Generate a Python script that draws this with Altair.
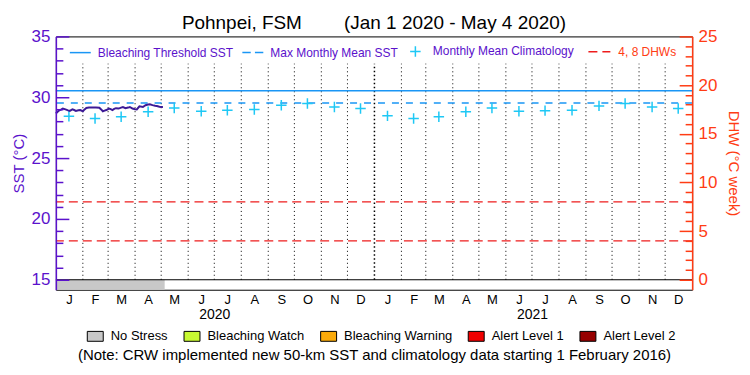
import altair as alt
import pandas as pd

# ---------------- data ----------------
sst_dates = ["2020-01-01", "2020-01-03", "2020-01-05", "2020-01-07", "2020-01-09", "2020-01-12",
             "2020-01-15", "2020-01-17", "2020-01-20", "2020-01-22", "2020-01-24", "2020-01-27",
             "2020-01-29", "2020-02-01", "2020-02-03", "2020-02-05", "2020-02-08", "2020-02-12",
             "2020-02-16", "2020-02-20", "2020-02-22", "2020-02-24", "2020-02-26", "2020-02-28",
             "2020-03-02", "2020-03-04", "2020-03-06", "2020-03-08", "2020-03-10", "2020-03-13",
             "2020-03-16", "2020-03-18", "2020-03-21", "2020-03-24", "2020-03-26", "2020-03-29",
             "2020-04-01", "2020-04-03", "2020-04-06", "2020-04-10", "2020-04-13", "2020-04-16",
             "2020-04-18", "2020-04-21", "2020-04-24", "2020-04-26", "2020-04-29", "2020-05-01",
             "2020-05-03"]
sst_values = [28.66, 28.80, 28.93, 28.98, 29.07, 29.00,
              28.92, 28.88, 29.00, 28.95, 28.88, 28.93,
              28.95, 28.85, 29.00, 29.12, 29.15, 29.15,
              29.15, 29.14, 29.00, 28.85, 28.90, 28.95,
              29.07, 29.02, 28.95, 29.04, 29.10, 29.07,
              29.15, 29.20, 29.10, 29.15, 29.20, 29.07,
              29.02, 29.00, 29.26, 29.20, 29.35, 29.40,
              29.42, 29.35, 29.30, 29.28, 29.22, 29.20,
              29.20]

clim_dates = ["2020-01-16", "2020-02-15", "2020-03-16", "2020-04-16", "2020-05-16", "2020-06-16",
              "2020-07-16", "2020-08-16", "2020-09-16", "2020-10-16", "2020-11-16", "2020-12-16",
              "2021-01-16", "2021-02-15", "2021-03-16", "2021-04-16", "2021-05-16", "2021-06-16",
              "2021-07-16", "2021-08-16", "2021-09-16", "2021-10-16", "2021-11-16", "2021-12-16"]
clim_values = [28.44, 28.25, 28.39, 28.80, 29.12, 28.85, 28.93, 29.00, 29.34, 29.48, 29.20, 29.07,
               28.47, 28.25, 28.39, 28.80, 29.12, 28.85, 28.90, 28.93, 29.29, 29.48, 29.20, 29.07]

threshold_value = [30.53]
mmm_value = [29.53]
dhw_values = [4, 8]
dhw_base = [0]

month_line_dates = ["2020-02-01", "2020-03-01", "2020-04-01", "2020-05-01", "2020-06-01",
                    "2020-07-01", "2020-08-01", "2020-09-01", "2020-10-01", "2020-11-01",
                    "2020-12-01", "2021-02-01", "2021-03-01", "2021-04-01", "2021-05-01",
                    "2021-06-01", "2021-07-01", "2021-08-01", "2021-09-01", "2021-10-01",
                    "2021-11-01", "2021-12-01"]
year_line_dates = ["2021-01-01"]

stress_start = ["2020-01-01"]
stress_end = ["2020-05-05"]
stress_level = ["No Stress"]

alert_names = ["No Stress", "Bleaching Watch", "Bleaching Warning", "Alert Level 1", "Alert Level 2"]
alert_colors = ["#C8C8C8", "#C8FA32", "#FAAA0A", "#F00000", "#960000"]

series_names = ["Bleaching Threshold SST", "Max Monthly Mean SST", "Monthly Mean Climatology"]
dhw_name = ["4, 8 DHWs"]

month_tick_days = [(y, m, 16 if m != 2 else 15) for y in (2020, 2021) for m in range(1, 13)]
year_tick_days = [(2020, 7, 1), (2021, 7, 1)]

title_text = "Pohnpei, FSM" + "\u00a0" * 8 + "(Jan 1 2020 - May 4 2020)"
note_text = "(Note: CRW implemented new 50-km SST and climatology data starting 1 February 2016)"

# ---------------- styling ----------------
FONT = "Liberation Sans"
W, H = 638, 254
SST_LO, SST_HI = 15.0, 35.0
DHW_LO, DHW_HI = 0.0, 25.0
BAND_PX = 10
sst_domain = [SST_LO - BAND_PX * (SST_HI - SST_LO) / (H - BAND_PX), SST_HI]
dhw_domain = [DHW_LO - BAND_PX * (DHW_HI - DHW_LO) / (H - BAND_PX), DHW_HI]
dotted_top_dhw = 22.2

PURPLE = "#5B12CC"
SST_LINE = "#3D1A96"
BLUE = "#1A96F5"
CYAN = "#1EC8F5"
RED_AX = "#FF3C14"
RED_LN = "#EE1C1C"

line_path = "M-1,0H1"
dash_path = "M-1,0H-0.2M0.2,0H1"
cross_path = "M0,-0.5V0.5M-0.5,0H0.5"
box_path = "M-1,-0.62H1V0.62H-1Z"

# ---------------- tables ----------------
sst_df = pd.DataFrame({"date": sst_dates, "sst": sst_values})
clim_df = pd.DataFrame({"date": clim_dates, "sst": clim_values, "series": series_names[2]})
thr_df = pd.DataFrame({"sst": threshold_value})
mmm_df = pd.DataFrame({"sst": mmm_value})
dhw_df = pd.DataFrame({"dhw": dhw_values, "label": dhw_name * len(dhw_values)})
base_df = pd.DataFrame({"dhw": dhw_base})
mon_df = pd.DataFrame({"date": month_line_dates})
yr_df = pd.DataFrame({"date": year_line_dates})
stress_df = pd.DataFrame({"start": stress_start, "end": stress_end, "level": stress_level})

xscale = alt.Scale(type="utc", domain=[alt.DateTime(year=2020, month=1, date=1, utc=True),
                                       alt.DateTime(year=2022, month=1, date=1, utc=True)])
sst_scale = alt.Scale(domain=sst_domain, nice=False, zero=False)
dhw_scale = alt.Scale(domain=dhw_domain, nice=False, zero=False)

tick_cond = {"condition": {"test": "datum.value % 5 === 0", "value": 13}, "value": 7}

axis_month = alt.Axis(orient="bottom", values=[alt.DateTime(year=y, month=m, date=d, utc=True)
                                               for (y, m, d) in month_tick_days],
                      labelExpr="substring(utcFormat(datum.value, '%b'), 0, 1)",
                      tickSize=0, domain=False, grid=False, labelPadding=4, labelFontSize=13,
                      labelColor="black", labelFlush=False, labelOverlap=False, title=None, zindex=1)
axis_year = alt.Axis(orient="bottom", values=[alt.DateTime(year=y, month=m, date=d, utc=True)
                                              for (y, m, d) in year_tick_days],
                     labelExpr="utcFormat(datum.value, '%Y')",
                     tickSize=0, domain=False, grid=False, labelPadding=18, labelFontSize=14,
                     labelColor="black", labelFlush=False, title=note_text, titleFontSize=15,
                     titleFontWeight="normal", titleColor="black", titlePadding=26, zindex=1)
axis_sst = alt.Axis(orient="left", values=[15, 20, 25, 30, 35], tickSize=0, labelPadding=6,
                    labelFontSize=17, labelColor=PURPLE, domainColor=PURPLE, domainWidth=1.5,
                    grid=False, title="SST (°C)", titleColor=PURPLE, titleFontSize=15,
                    titleFontWeight="normal", titlePadding=5, zindex=2)
axis_sst_ticks = alt.Axis(orient="right", offset=-W, values=list(range(15, 36)), tickSize=tick_cond,
                          tickColor=PURPLE, tickWidth=1.5, labels=False, domain=False, grid=False,
                          title=None, zindex=2)
axis_dhw = alt.Axis(orient="right", values=[0, 5, 10, 15, 20, 25], tickSize=0, labelPadding=6,
                    labelFontSize=17, labelColor=RED_AX, domainColor=RED_AX, domainWidth=1.5,
                    grid=False, title="DHW (°C week)", titleColor=RED_AX, titleFontSize=15,
                    titleFontWeight="normal", titlePadding=9, zindex=2)
axis_dhw_ticks = alt.Axis(orient="left", offset=-W, values=list(range(0, 26)), tickSize=tick_cond,
                          tickColor=RED_AX, tickWidth=1.5, labels=False, domain=False, grid=False,
                          title=None, zindex=2)

series_legend = alt.Legend(orient="none", legendX=13, legendY=3.5, direction="horizontal", title=None,
                           symbolSize=441, symbolStrokeWidth=1.5, labelFont=FONT, labelFontSize=12,
                           labelColor=PURPLE, labelOffset=6, columnPadding=5)
dhw_legend = alt.Legend(orient="none", legendX=533, legendY=3.5, direction="horizontal", title=None,
                        symbolType="stroke", symbolSize=484, symbolStrokeWidth=1.5,
                        symbolStrokeColor=RED_LN, labelFont=FONT, labelFontSize=12,
                        labelColor=RED_AX, labelOffset=7)
alert_legend = alt.Legend(orient="none", legendX=31, legendY=292, direction="horizontal", title=None,
                          symbolType=box_path, symbolSize=256, symbolStrokeColor="black",
                          symbolStrokeWidth=1, labelFont=FONT, labelFontSize=13, labelColor="black",
                          labelOffset=7, columnPadding=13)

# ---------------- layers ----------------
band = alt.Chart(stress_df).mark_rect().encode(
    x=alt.X("start:T", scale=xscale, axis=None),
    x2="end:T",
    y=alt.Y(datum=sst_domain[0], type="quantitative", scale=sst_scale, axis=None),
    y2=alt.Y2(datum=SST_LO),
    fill=alt.Fill("level:N", scale=alt.Scale(domain=alert_names, range=alert_colors), legend=alert_legend),
)

month_lines = alt.Chart(mon_df).mark_rule(color="black", strokeWidth=1, strokeDash=[1, 3]).encode(
    x=alt.X("date:T", scale=xscale, axis=None),
    y=alt.Y(datum=DHW_LO, type="quantitative", scale=dhw_scale, axis=None),
    y2=alt.Y2(datum=dotted_top_dhw),
)

year_lines = alt.Chart(yr_df).mark_rule(color="black", strokeWidth=1.5, strokeDash=[1.5, 2.5]).encode(
    x=alt.X("date:T", scale=xscale, axis=None),
    y=alt.Y(datum=DHW_LO, type="quantitative", scale=dhw_scale, axis=None),
    y2=alt.Y2(datum=dotted_top_dhw),
)

dhw_rules = alt.Chart(dhw_df).mark_rule(color=RED_LN, strokeWidth=1.3).encode(
    y=alt.Y("dhw:Q", scale=dhw_scale, axis=axis_dhw),
    strokeDash=alt.StrokeDash("label:N", scale=alt.Scale(domain=dhw_name, range=[[9, 5]]),
                              legend=dhw_legend),
)

base_rule = alt.Chart(base_df).mark_rule(color="black", strokeWidth=1.2).encode(
    y=alt.Y("dhw:Q", scale=dhw_scale, axis=axis_dhw_ticks),
)

thr_rule = alt.Chart(thr_df).mark_rule(color=BLUE, strokeWidth=1.5).encode(
    y=alt.Y("sst:Q", scale=sst_scale, axis=axis_sst_ticks),
)

mmm_rule = alt.Chart(mmm_df).mark_rule(color=BLUE, strokeWidth=1.5, strokeDash=[7, 7]).encode(
    y=alt.Y("sst:Q", scale=sst_scale, axis=None),
)

clim = alt.Chart(clim_df).mark_point(filled=False, size=441, strokeWidth=1.5, opacity=1).encode(
    x=alt.X("date:T", scale=xscale, axis=axis_year),
    y=alt.Y("sst:Q", scale=sst_scale, axis=None),
    stroke=alt.Stroke("series:N", scale=alt.Scale(domain=series_names, range=[BLUE, BLUE, CYAN]),
                      legend=series_legend),
    shape=alt.Shape("series:N", scale=alt.Scale(domain=series_names,
                                                range=[line_path, dash_path, cross_path]),
                    legend=series_legend),
)

sst_line = alt.Chart(sst_df).mark_line(color=SST_LINE, strokeWidth=2).encode(
    x=alt.X("date:T", scale=xscale, axis=axis_month),
    y=alt.Y("sst:Q", scale=sst_scale, axis=axis_sst),
)

chart = alt.layer(
    band, month_lines, year_lines, dhw_rules, base_rule, thr_rule, mmm_rule, clim, sst_line
).resolve_scale(
    y="independent"
).resolve_axis(
    x="independent", y="independent"
).properties(
    width=W, height=H,
    title=alt.Title(title_text, fontSize=19, font=FONT, fontWeight="normal", color="black",
                    anchor="middle", frame="group", offset=-6),
    autosize=alt.AutoSizeParams(type="none"),
    padding={"left": 48, "top": 28, "right": 50, "bottom": 77},
).configure_view(
    stroke="black", strokeWidth=1
).configure_axis(
    labelFont=FONT, titleFont=FONT
).configure_legend(
    labelFont=FONT, padding=0
)

chart.save("out.html", embed_options={"renderer": "svg", "actions": False})
